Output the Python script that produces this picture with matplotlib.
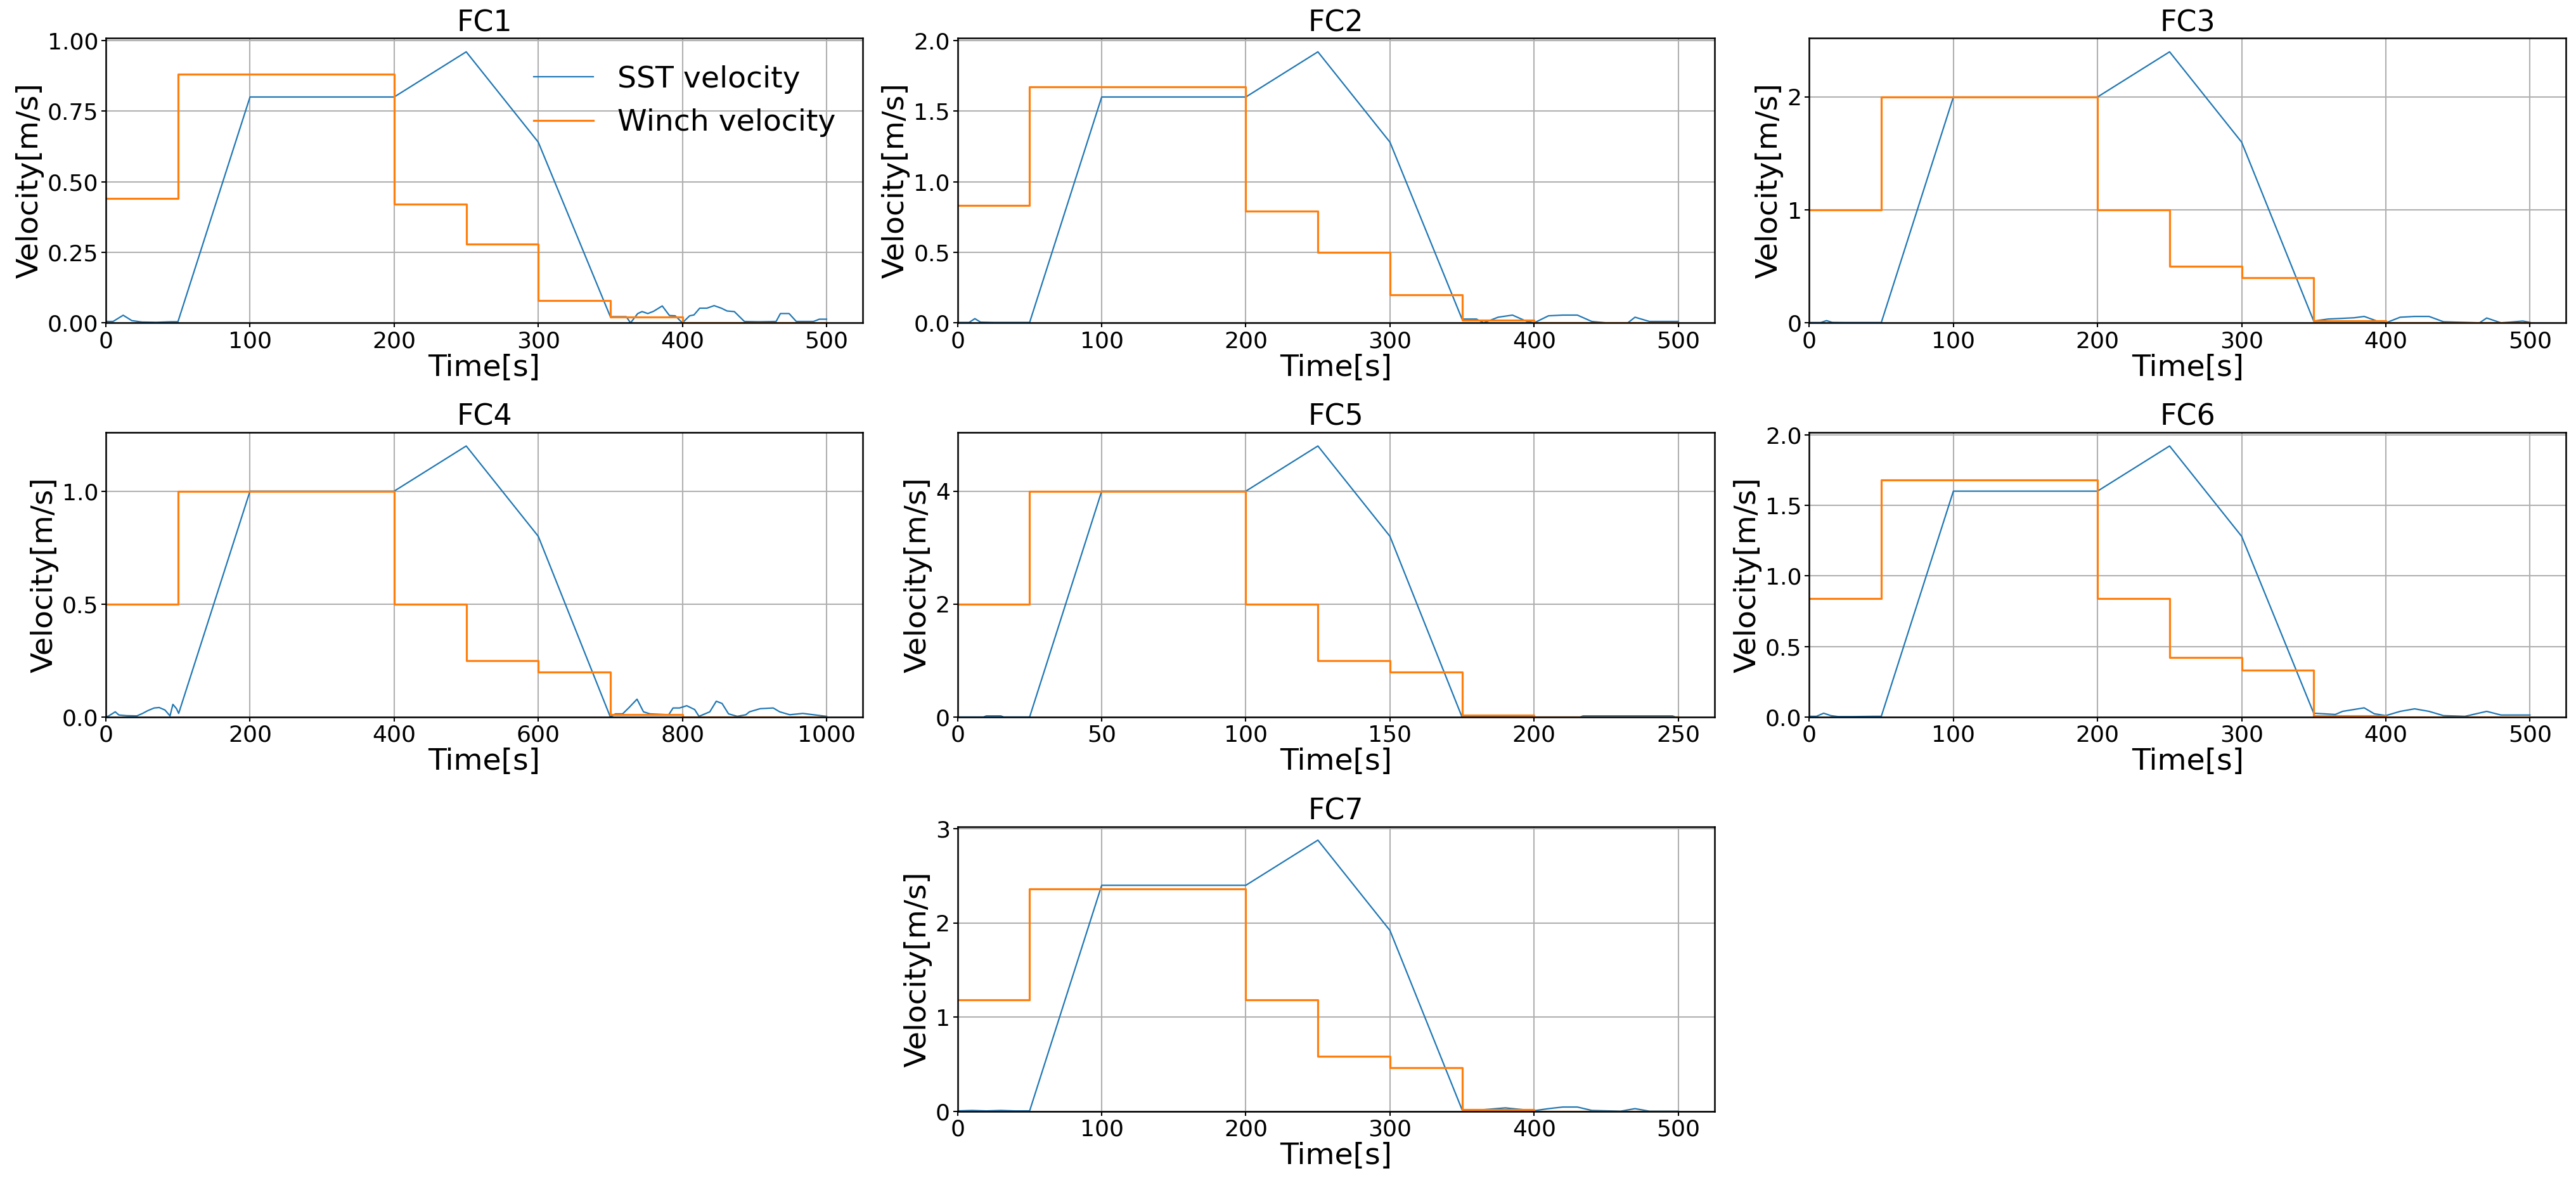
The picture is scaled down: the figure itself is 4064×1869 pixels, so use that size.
import matplotlib
matplotlib.use("Agg")
import matplotlib.pyplot as plt

# ---------------- data ----------------
titles = ["FC1", "FC2", "FC3", "FC4", "FC5", "FC6", "FC7"]

fc1_sst_t = [0, 5, 12, 18, 25, 35, 45, 50, 100, 200, 250, 300, 350, 361, 364, 369, 372, 376, 380, 386,
             391, 395, 400, 405, 408, 412, 417, 422, 427, 431, 436, 443, 453, 465, 468, 474, 479, 491, 495, 500]
fc1_sst_v = [0.005, 0.005, 0.027, 0.008, 0.003, 0.002, 0.004, 0.004, 0.80, 0.80, 0.96, 0.64, 0.022, 0.022,
             0.0, 0.033, 0.04, 0.033, 0.041, 0.06, 0.026, 0.025, 0.0, 0.025, 0.028, 0.052, 0.052, 0.061,
             0.052, 0.042, 0.04, 0.005, 0.004, 0.005, 0.033, 0.033, 0.005, 0.005, 0.013, 0.013]
fc1_winch_t = [0, 50, 200, 250, 300, 350, 400, 500]
fc1_winch_v = [0.44, 0.88, 0.42, 0.28, 0.08, 0.02, 0.0]

fc2_sst_t = [0, 8, 12, 16, 25, 40, 50, 100, 200, 250, 300, 350, 360, 365, 375, 385, 395, 400, 410, 420,
             430, 440, 450, 465, 470, 480, 490, 500]
fc2_sst_v = [0.003, 0.003, 0.03, 0.005, 0.003, 0.003, 0.003, 1.6, 1.6, 1.92, 1.28, 0.027, 0.027, 0.0,
             0.04, 0.055, 0.01, 0.0, 0.05, 0.055, 0.055, 0.01, 0.0, 0.0, 0.04, 0.01, 0.01, 0.01]
fc2_winch_t = [0, 50, 200, 250, 300, 350, 400, 500]
fc2_winch_v = [0.83, 1.67, 0.79, 0.50, 0.20, 0.02, 0.0]

fc3_sst_t = [0, 8, 12, 16, 25, 40, 50, 100, 200, 250, 300, 350, 360, 370, 378, 385, 395, 400, 410, 420,
             430, 440, 465, 470, 480, 495, 500]
fc3_sst_v = [0.003, 0.003, 0.02, 0.004, 0.003, 0.003, 0.003, 2.0, 2.0, 2.4, 1.6, 0.016, 0.034, 0.04,
             0.045, 0.057, 0.011, 0.0, 0.05, 0.057, 0.057, 0.01, 0.0, 0.043, 0.0, 0.016, 0.005]
fc3_winch_t = [0, 50, 200, 250, 300, 350, 400, 500]
fc3_winch_v = [1.0, 2.0, 1.0, 0.5, 0.4, 0.02, 0.0]

fc4_sst_t = [0, 4, 13, 18, 29, 43, 51, 58, 67, 74, 82, 89, 93, 98, 101, 200, 400, 500, 600, 700, 707,
             717, 726, 737, 746, 755, 781, 787, 796, 806, 817, 823, 838, 847, 855, 864, 876, 888, 893,
             908, 926, 935, 949, 967, 982, 1000]
fc4_sst_v = [0.0, 0.005, 0.023, 0.009, 0.006, 0.005, 0.016, 0.028, 0.04, 0.042, 0.031, 0.005, 0.056,
             0.037, 0.016, 1.0, 1.0, 1.2, 0.8, 0.0, 0.014, 0.014, 0.042, 0.079, 0.023, 0.014, 0.01,
             0.04, 0.04, 0.05, 0.033, 0.003, 0.023, 0.07, 0.06, 0.014, 0.003, 0.01, 0.023, 0.037,
             0.04, 0.023, 0.01, 0.016, 0.01, 0.003]
fc4_winch_t = [0, 100, 400, 500, 600, 700, 800, 1000]
fc4_winch_v = [0.5, 1.0, 0.5, 0.25, 0.2, 0.01, 0.0]

fc5_sst_t = [0, 9, 10, 15, 16, 25, 50, 100, 125, 150, 175, 200, 216, 217, 248, 249, 250]
fc5_sst_v = [0.0, 0.0, 0.02, 0.02, 0.0, 0.0, 4.0, 4.0, 4.8, 3.2, 0.0, 0.0, 0.0, 0.02, 0.02, 0.0, 0.0]
fc5_winch_t = [0, 25, 100, 125, 150, 175, 200, 250]
fc5_winch_v = [2.0, 4.0, 2.0, 1.0, 0.8, 0.03, 0.0]

fc6_sst_t = [0, 5, 10, 15, 20, 30, 45, 50, 100, 200, 250, 300, 350, 365, 370, 385, 392, 400, 410, 420,
             430, 440, 455, 470, 480, 500]
fc6_sst_v = [0.005, 0.005, 0.027, 0.01, 0.003, 0.003, 0.005, 0.005, 1.6, 1.6, 1.92, 1.28, 0.027, 0.018,
             0.04, 0.065, 0.023, 0.01, 0.04, 0.058, 0.04, 0.01, 0.005, 0.04, 0.014, 0.014]
fc6_winch_t = [0, 50, 200, 250, 300, 350, 400, 500]
fc6_winch_v = [0.84, 1.68, 0.84, 0.42, 0.33, 0.01, 0.0]

fc7_sst_t = [0, 10, 20, 30, 40, 50, 100, 200, 250, 300, 350, 360, 380, 400, 410, 420, 430, 440, 460,
             470, 480, 500]
fc7_sst_v = [0.003, 0.008, 0.003, 0.008, 0.003, 0.003, 2.4, 2.4, 2.88, 1.92, 0.016, 0.01, 0.035, 0.005,
             0.027, 0.044, 0.044, 0.008, 0.0, 0.027, 0.0, 0.0]
fc7_winch_t = [0, 50, 200, 250, 300, 350, 400, 500]
fc7_winch_v = [1.18, 2.36, 1.18, 0.58, 0.46, 0.02, 0.0]

xticks = [
    [0, 100, 200, 300, 400, 500],
    [0, 100, 200, 300, 400, 500],
    [0, 100, 200, 300, 400, 500],
    [0, 200, 400, 600, 800, 1000],
    [0, 50, 100, 150, 200, 250],
    [0, 100, 200, 300, 400, 500],
    [0, 100, 200, 300, 400, 500],
]
yticks = [
    [0.0, 0.25, 0.5, 0.75, 1.0],
    [0.0, 0.5, 1.0, 1.5, 2.0],
    [0, 1, 2],
    [0.0, 0.5, 1.0],
    [0, 2, 4],
    [0.0, 0.5, 1.0, 1.5, 2.0],
    [0, 1, 2, 3],
]

sst_t = [fc1_sst_t, fc2_sst_t, fc3_sst_t, fc4_sst_t, fc5_sst_t, fc6_sst_t, fc7_sst_t]
sst_v = [fc1_sst_v, fc2_sst_v, fc3_sst_v, fc4_sst_v, fc5_sst_v, fc6_sst_v, fc7_sst_v]
winch_t = [fc1_winch_t, fc2_winch_t, fc3_winch_t, fc4_winch_t, fc5_winch_t, fc6_winch_t, fc7_winch_t]
winch_v = [fc1_winch_v, fc2_winch_v, fc3_winch_v, fc4_winch_v, fc5_winch_v, fc6_winch_v, fc7_winch_v]

# ---------------- figure ----------------
fig, axes = plt.subplots(3, 3, figsize=(40.64, 18.69), dpi=100)
fig.subplots_adjust(left=0.0411, right=0.9961, bottom=0.0623, top=0.9677, wspace=0.1255, hspace=0.385)

slots = [(0, 0), (0, 1), (0, 2), (1, 0), (1, 1), (1, 2), (2, 1)]
axes[2, 0].remove()
axes[2, 2].remove()

for i, (r, c) in enumerate(slots):
    ax = axes[r, c]
    ax.plot(sst_t[i], sst_v[i], color="#1f77b4", lw=1.6, label="SST velocity")
    wt = winch_t[i]
    wv = list(winch_v[i]) + [winch_v[i][-1]]
    ax.step(wt, wv, where="post", color="#ff7f0e", lw=2.3, label="Winch velocity")
    ax.set_xticks(xticks[i])
    ax.set_yticks(yticks[i])
    ax.set_xlim(left=0)
    ax.set_ylim(bottom=0)
    ax.grid(True, color="#b0b0b0", lw=1.5)
    ax.set_axisbelow(True)
    for sp in ax.spines.values():
        sp.set_linewidth(1.8)
        sp.set_color("black")
    ax.tick_params(labelsize=26, width=1.5, length=5)
    ax.set_xlabel("Time[s]", fontsize=34, labelpad=2)
    ax.set_ylabel("Velocity[m/s]", fontsize=34, labelpad=4)
    ax.set_title(titles[i], fontsize=33, pad=8)
    if i == 0:
        ax.legend(loc="upper right", fontsize=34, frameon=False)

fig.savefig("out.png", dpi=100)
